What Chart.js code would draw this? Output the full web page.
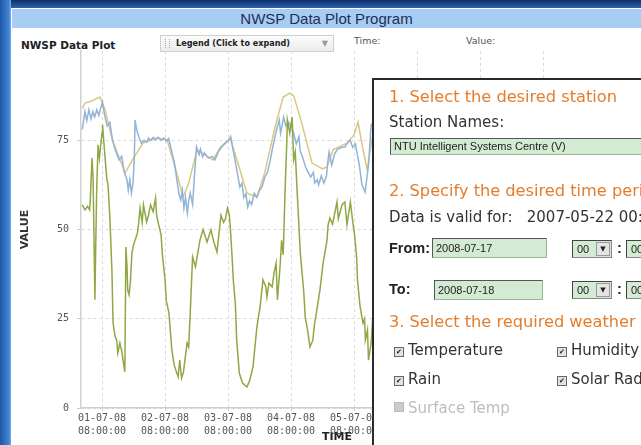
<!DOCTYPE html>
<html>
<head>
<meta charset="utf-8">
<script src="https://cdn.jsdelivr.net/npm/chart.js@4.4.0/dist/chart.umd.min.js"></script>
<style>
  html, body { margin: 0; padding: 0; width: 641px; height: 445px; overflow: hidden; background: #fff; font-family: "DejaVu Sans", Verdana, sans-serif; }
  .abs { position: absolute; white-space: nowrap; }
  #frameTop { left: 0; top: 0; width: 641px; height: 8px; background: linear-gradient(#0e2f6a, #2b62ad); }
  #frameLeft { left: 0; top: 0; width: 11px; height: 445px; background: linear-gradient(90deg, #1d57a6, #3f84d4 80%, #7aaee6); }
  #titleBar { left: 12px; top: 9px; width: 629px; height: 19px; background: #a8cdf4; color: #1d2d57; font: 15px "Liberation Sans", Arial, sans-serif; line-height: 19px; text-align: center; }
  #plotName { left: 21px; top: 39px; font: bold 10.5px "DejaVu Sans", sans-serif; color: #222; }
  #legendBox { left: 160px; top: 35px; width: 172px; height: 15px; border: 1px solid #cfcfcf; background: linear-gradient(#fbfbfb, #ececec); }
  #legendBox .grip { position: absolute; left: 4px; top: 3px; width: 3px; height: 9px; border-left: 1px dotted #aaa; border-right: 1px dotted #aaa; }
  #legendBox .txt { position: absolute; left: 15px; top: 1px; font: bold 9px "DejaVu Sans Condensed", "DejaVu Sans", sans-serif; color: #222; line-height: 13px; }
  #legendBox .arr { position: absolute; right: 5px; top: 1px; font: 8px "DejaVu Sans", sans-serif; color: #999; line-height: 13px; }
  .hdrLbl { font: 9.5px "DejaVu Sans", sans-serif; color: #555; top: 35px; }
  #chartBox { position: absolute; left: 0; top: 0; }
  #panel { left: 372px; top: 78px; width: 280px; height: 380px; background: #fff; border-left: 2px solid #2a2a2a; border-top: 2px solid #2a2a2a; z-index: 5; }
  .head { color: #e37d2d; font: 16.2px "DejaVu Sans", Verdana, sans-serif; }
  .lbl { color: #333; font: 15px "DejaVu Sans", Verdana, sans-serif; }
  .bl { color: #222; font: bold 14.5px "Liberation Sans", Arial, sans-serif; }
  .inp { background: #d3ead3; border: 1px solid #9ab59a; border-top-color: #555; border-left-color: #555; font: 11px "Liberation Sans Narrow", "Liberation Sans", Arial, sans-serif; color: #222; padding-left: 3px; box-sizing: border-box; }
  .sel { background: #d3ead3; border: 1px solid #888; border-top-color: #444; border-left-color: #444; font: 11px "Liberation Sans Narrow", "Liberation Sans", sans-serif; color: #222; box-sizing: border-box; padding-left: 4px; }
  .sel .btn { position: absolute; right: 1px; top: 1px; width: 14px; height: 14px; background: #e4e4e4; border: 1px solid #999; box-sizing: border-box; font: 7px "DejaVu Sans"; line-height: 12px; text-align: center; color: #222; }
  .cb { display: inline-block; width: 8px; height: 8px; border: 1px solid #666; background: #e2e2e2; font: bold 7px "DejaVu Sans"; line-height: 8px; text-align: center; color: #222; vertical-align: 1px; margin-right: 4px; }
</style>
</head>
<body>
<div id="frameTop" class="abs"></div>
<div id="frameLeft" class="abs"></div>
<div id="titleBar" class="abs">NWSP Data Plot Program</div>
<div id="plotName" class="abs">NWSP Data Plot</div>
<div id="legendBox" class="abs"><span class="grip"></span><span class="txt">Legend (Click to expand)</span><span class="arr">▼</span></div>
<div class="abs hdrLbl" style="left:354px">Time:</div>
<div class="abs hdrLbl" style="left:466px">Value:</div>

<div id="chartBox"><canvas id="plot" width="641" height="445"></canvas></div>

<div id="panel" class="abs">
  <div class="abs head" style="left:15px;top:7px">1. Select the desired station</div>
  <div class="abs lbl" style="left:15px;top:33px">Station Names:</div>
  <div class="abs inp" style="left:16px;top:58px;width:280px;height:17px;line-height:15px">NTU Intelligent Systems Centre (V)</div>
  <div class="abs head" style="left:15px;top:101px">2. Specify the desired time period</div>
  <div class="abs lbl" style="left:15px;top:128px">Data is valid for:&nbsp;&nbsp;&nbsp;2007-05-22 00:00</div>
  <div class="abs bl" style="left:15px;top:160px">From:</div>
  <div class="abs inp" style="left:58px;top:158px;width:115px;height:20px;line-height:18px">2008-07-17</div>
  <div class="abs sel" style="left:198px;top:160px;width:40px;height:18px;line-height:16px">00<span class="btn">▼</span></div>
  <div class="abs bl" style="left:243px;top:160px">:</div>
  <div class="abs sel" style="left:252px;top:160px;width:40px;height:18px;line-height:16px">00<span class="btn">▼</span></div>
  <div class="abs bl" style="left:15px;top:201px">To:</div>
  <div class="abs inp" style="left:60px;top:200px;width:109px;height:20px;line-height:18px">2008-07-18</div>
  <div class="abs sel" style="left:198px;top:201px;width:40px;height:18px;line-height:16px">00<span class="btn">▼</span></div>
  <div class="abs bl" style="left:243px;top:201px">:</div>
  <div class="abs sel" style="left:252px;top:201px;width:40px;height:18px;line-height:16px">00<span class="btn">▼</span></div>
  <div class="abs head" style="left:15px;top:232px">3. Select the required weather data</div>
  <div class="abs lbl" style="left:20px;top:261px"><span class="cb">✔</span>Temperature</div>
  <div class="abs lbl" style="left:183px;top:261px"><span class="cb">✔</span>Humidity</div>
  <div class="abs lbl" style="left:20px;top:290px"><span class="cb">✔</span>Rain</div>
  <div class="abs lbl" style="left:183px;top:290px"><span class="cb">✔</span>Solar Radiation</div>
  <div class="abs lbl" style="left:20px;top:319px;color:#bdbdbd"><span class="cb" style="border-color:#bbb;background:#ccc;color:#ccc"></span>Surface Temp</div>
</div>

<script>
// x positions are hours since 01-07-08 00:00
const dayLabels = ["01-07-08", "02-07-08", "03-07-08", "04-07-08", "05-07-08", "06-07-08", "07-07-08", "08-07-08"];
const tickHours = [8, 32, 56, 80, 104, 128, 152, 176];
const tickTime = "08:00:00";
const yTicks = [0, 25, 50, 75];

// tan series (smooth)
const tanHours = [0.5, 1.5, 4, 7.2, 9, 12, 16.8, 20, 23.6, 29, 32.8, 36, 38.9, 41, 44.2, 47, 50.3, 53, 56.8, 60, 63.2, 67, 70, 74, 77, 79.5, 81, 84, 88, 92, 93.7, 96, 101.3, 104, 105.5, 107.5, 109, 111];
const tanValues = [84, 85.4, 86, 87.1, 84, 75, 65.8, 70, 74.2, 75.6, 75.1, 67, 59.1, 63, 72.3, 71, 69.5, 73, 75.6, 68, 60.2, 59.1, 66, 79, 87.1, 88.2, 87.5, 80, 68.6, 67, 67.5, 72.3, 74.2, 76.5, 80.1, 72, 66.7, 76];

// blue series (noisy)
const blueHours = [0.5, 1.5, 2.2, 3, 3.8, 4.5, 5.2, 6, 6.8, 7.5, 8.2, 9, 10, 11, 12, 13.2, 14.5, 15.5, 16.5, 17.5, 18, 18.6, 19.2, 19.8, 20.3, 20.6, 21.2, 22, 23, 24, 25, 25.7, 26.5, 27.5, 28.5, 29.5, 30.5, 31.5, 32.5, 33.4, 34.5, 35.5, 36.5, 37.3, 38, 38.6, 39.2, 39.8, 40.5, 41, 41.6, 42.5, 43.3, 44, 45, 45.5, 46.3, 47, 48.5, 50, 51, 52.5, 54, 55.5, 56.5, 57, 58, 59.5, 60.5, 61.3, 62, 62.8, 63.5, 64.2, 65, 66, 67, 68, 69, 70, 71, 72, 73, 74.5, 75.5, 76, 77.2, 78, 79, 80.2, 81, 82, 83, 83.5, 84.5, 85.5, 86.5, 87.5, 88.5, 89, 90, 90.5, 91.5, 92.5, 93.5, 94, 94.5, 95.5, 96.5, 97.5, 99, 100.5, 101.5, 102.5, 103.5, 104.5, 105.5, 106, 107, 108.2, 108.8, 109.5, 110.5, 111.5];
const blueValues = [78, 83, 80.5, 83.5, 81, 83, 81.5, 83.5, 82, 84, 85.7, 82, 79, 80, 75, 72, 69.5, 70.5, 66, 64, 61, 64, 60.2, 63, 70, 80.7, 78, 76, 74.2, 75, 74.5, 75.6, 75, 75.8, 75.2, 75.8, 75, 75.6, 74.8, 75.5, 72, 69, 64, 60, 58.3, 61, 56, 59, 54.6, 58, 60.2, 57, 66, 73.1, 71, 72.5, 70.3, 71.5, 70, 70.5, 69.5, 72, 73.5, 74.5, 75.1, 76, 72, 66, 61.9, 63, 59, 60, 56.3, 58, 57, 60.2, 59, 61, 62, 64.7, 66, 69, 73, 78, 80.7, 77, 81.5, 79, 80, 78.7, 77, 74, 76, 72, 70, 67.5, 66, 64.7, 66, 63, 64, 62.5, 65, 63, 65, 69, 71.7, 68, 71, 72.3, 73, 73.1, 74.2, 75, 73, 74, 70, 68, 62.5, 60.5, 64, 68, 79.3, 80];

// green series (large daily swings)
const greenHours = [0.5, 1.5, 2.5, 3.3, 3.5, 4.2, 4.6, 5, 5.3, 5.6, 6, 6.5, 7, 8, 8.2, 9, 9.8, 10.3, 11, 11.8, 12.2, 13, 13.6, 14, 14.8, 15.5, 16, 16.7, 17.1, 17.5, 17.8, 18.3, 18.8, 19.4, 20, 21.5, 22, 22.5, 23.3, 23.8, 25, 25.7, 26.5, 27.5, 28.4, 28.8, 29.6, 30.5, 31, 32, 32.5, 33.5, 34.6, 35.5, 37, 37.6, 38.3, 39, 40.4, 41, 41.6, 42.5, 43.6, 45.3, 46.5, 48, 49.5, 50.6, 51.8, 53.3, 54.3, 55, 55.8, 56.5, 57, 57.5, 58, 58.8, 59.3, 60.3, 61.5, 63.2, 64.3, 65.5, 67, 68.2, 69.3, 70.4, 70.8, 71.6, 72.8, 73.5, 74.3, 74.8, 75.8, 76.4, 77, 77.8, 78.4, 78.6, 79.5, 80.4, 81, 81.6, 82.2, 83.5, 84.2, 84.8, 85.4, 86.3, 87.2, 88.3, 88.8, 89.7, 91, 92.2, 93.7, 94.1, 94.8, 95.8, 97.5, 98, 99.4, 100.5, 101.3, 102.6, 103.5, 104.2, 105, 105.3, 106.3, 107.4, 108, 108.3, 109.1, 109.5, 110.5, 111.5];
const greenValues = [56.9, 55.5, 56.5, 55.5, 57.7, 70, 64.4, 45, 30.3, 45, 62, 73.7, 70, 77, 79.3, 71.7, 64.4, 62.5, 53.2, 38, 23.8, 20, 19, 15.4, 18.2, 16, 13.4, 10.1, 45.1, 40, 33, 31.7, 35, 43.4, 45.7, 49, 52, 56, 52, 56.9, 52.1, 54, 56.9, 55, 58.8, 54, 51.3, 48.5, 42.9, 36, 30, 26.6, 16.2, 12, 8.7, 13.4, 8.4, 10, 18.2, 17.1, 26.6, 42.3, 39.5, 47, 50, 46.5, 49.9, 46.5, 43.7, 54, 52, 53, 56, 54, 49, 42.9, 36, 29, 19, 9.8, 7, 5.9, 7.8, 11.5, 22.7, 28.3, 35.9, 33.9, 31.1, 35, 33.9, 37.8, 40.6, 30.3, 39.5, 47, 42.9, 62.5, 75, 80.7, 77, 81.5, 69.5, 71.7, 62.5, 43.7, 37.8, 33, 25.5, 21.8, 17.1, 19, 22.7, 26.9, 33, 40.6, 47, 51.3, 53.2, 51.5, 57.7, 53, 56.9, 57.7, 51.3, 57.7, 52.1, 48.5, 42, 35.9, 28.3, 23.8, 25, 19, 21.8, 13.4, 18.2, 30];

const toPoints = (hs, vs) => hs.map((h, i) => ({ x: h, y: vs[i] }));

const lineStyle = { borderWidth: 1.5, pointRadius: 0, tension: 0, fill: false };

new Chart(document.getElementById("plot"), {
  type: "line",
  data: {
    datasets: [
      { label: "Series C", data: toPoints(greenHours, greenValues), borderColor: "#8fa845", ...lineStyle },
      { label: "Series B", data: toPoints(blueHours, blueValues), borderColor: "#92b4d6", ...lineStyle },
      { label: "Series A", data: toPoints(tanHours, tanValues), borderColor: "#dcc684", ...lineStyle },
    ],
  },
  options: {
    responsive: false,
    animation: false,
    layout: { padding: { left: 15, top: 51, right: 48, bottom: 0 } },
    plugins: { legend: { display: false }, tooltip: { enabled: false } },
    scales: {
      x: {
        type: "linear",
        min: 0,
        max: 195,
        afterFit: (s) => { s.height = 37; },
        afterBuildTicks: (s) => { s.ticks = tickHours.map((v) => ({ value: v })); },
        ticks: {
          autoSkip: false,
          maxRotation: 0,
          padding: 1,
          color: "#555",
          font: { family: "DejaVu Sans Mono", size: 10, lineHeight: 1.3 },
          callback: (v) => [dayLabels[tickHours.indexOf(v)], tickTime],
        },
        grid: { color: "#dadada", tickLength: 3, tickColor: "#ccc" },
        border: { color: "#d0d0d0", width: 1.5, dash: [3, 3] },
        title: { display: true, text: "TIME", color: "#222", font: { family: "DejaVu Sans", size: 11, weight: "bold" }, padding: { top: 0, bottom: 1.5 } },
      },
      y: {
        min: 0,
        max: 100,
        afterFit: (s) => { s.width = 66; },
        afterBuildTicks: (s) => { s.ticks = yTicks.map((v) => ({ value: v })); },
        ticks: { color: "#555", padding: 8, font: { family: "DejaVu Sans Mono", size: 10 } },
        grid: { color: "#dadada", tickLength: 4, tickColor: "#ccc" },
        border: { color: "#d0d0d0", width: 1.5, dash: [3, 3] },
        title: { display: true, text: "VALUE", color: "#333", font: { family: "DejaVu Sans", size: 11, weight: "bold" }, padding: { top: 3.4, bottom: 0 } },
      },
    },
  },
});
</script>
</body>
</html>
